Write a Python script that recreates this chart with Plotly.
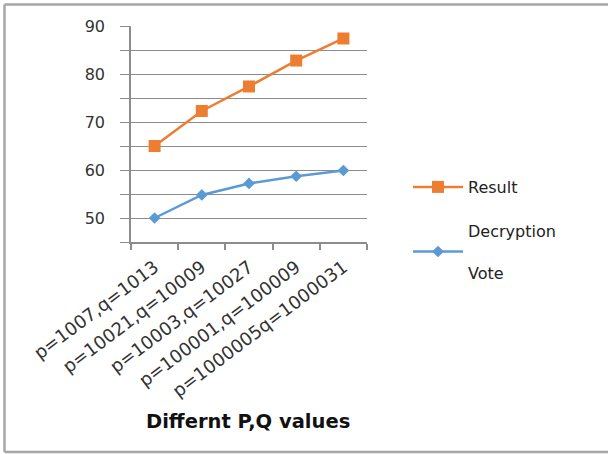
import plotly.graph_objects as go

categories = ["p=1007,q=1013", "p=10021,q=10009", "p=10003,q=10027",
              "p=100001,q=100009", "p=1000005q=1000031"]
result = [65, 72.3, 77.4, 82.8, 87.4]
decryption_vote = [50, 54.8, 57.2, 58.7, 59.9]
y_tickvals = [45, 50, 55, 60, 65, 70, 75, 80, 85, 90]
y_ticktext = ["", "50", "", "60", "", "70", "", "80", "", "90"]

W, H = 608, 454
L, R, T, B = 131, 367, 26, 242
pw, ph = R - L, B - T

def px(x):
    return (x - L) / pw

def py(y):
    return (B - y) / ph

fig = go.Figure()
fig.add_trace(go.Scatter(
    x=categories, y=result, name="Result", mode="lines+markers",
    line=dict(color="#ED7D31", width=2.5),
    marker=dict(symbol="square", size=12, color="#ED7D31"),
    legendgroup="a"))
fig.add_trace(go.Scatter(
    x=categories, y=decryption_vote, name="Decryption<br><br>Vote", mode="lines+markers",
    line=dict(color="#5B9BD5", width=2.5),
    marker=dict(symbol="diamond", size=9, color="#5B9BD5"),
    legendgroup="b"))

axis_color = "#8C8C8C"
border = dict(color="#A6A6A6", width=2.5)
fig.update_layout(
    width=W, height=H,
    margin=dict(l=L, r=W - R, t=T, b=H - B, autoexpand=False),
    paper_bgcolor="white", plot_bgcolor="white",
    font=dict(family="DejaVu Sans", color="#333333"),
    showlegend=True,
    legend=dict(x=px(408), y=py(170), xanchor="left", yanchor="top",
                font=dict(size=16, color="#222222"), tracegroupgap=20,
                itemwidth=50, bgcolor="rgba(0,0,0,0)"),
    xaxis=dict(type="category", range=[-0.5, 4.5], tickson="boundaries",
               showgrid=False, showline=True, linecolor=axis_color, linewidth=1.5,
               ticks="outside", ticklen=6, tickcolor=axis_color, tickwidth=1.5,
               tickangle=-37, ticklabelstandoff=6,
               tickfont=dict(size=18, color="#333333"),
               zeroline=False),
    yaxis=dict(range=[45, 90], tickvals=y_tickvals, ticktext=y_ticktext,
               showgrid=True, gridcolor=axis_color, gridwidth=1,
               showline=True, linecolor=axis_color, linewidth=1.5,
               ticks="outside", ticklen=9, tickcolor=axis_color, tickwidth=1,
               ticklabelstandoff=12,
               tickfont=dict(size=16, color="#333333"), zeroline=False),
    shapes=[
        dict(type="line", xref="paper", yref="paper",
             x0=px(4.5), x1=px(4.5), y0=py(452), y1=py(4.5), line=border, layer="below"),
        dict(type="line", xref="paper", yref="paper",
             x0=px(4.5), x1=px(612), y0=py(4.5), y1=py(4.5), line=border, layer="below"),
        dict(type="line", xref="paper", yref="paper",
             x0=px(4.5), x1=px(612), y0=py(452), y1=py(452), line=border, layer="below"),
    ],
    annotations=[dict(text="<b>Differnt P,Q values</b>", xref="paper", yref="paper",
                      x=px(248), y=py(421), xanchor="center", yanchor="middle",
                      showarrow=False, font=dict(size=19.5, color="#111111"))],
)

fig.write_html(
    "out.html", config={"displayModeBar": False},
    post_script=("document.body.style.margin='0';"
                 "document.body.style.overflow='hidden';"
                 "document.documentElement.style.overflow='hidden';"))
